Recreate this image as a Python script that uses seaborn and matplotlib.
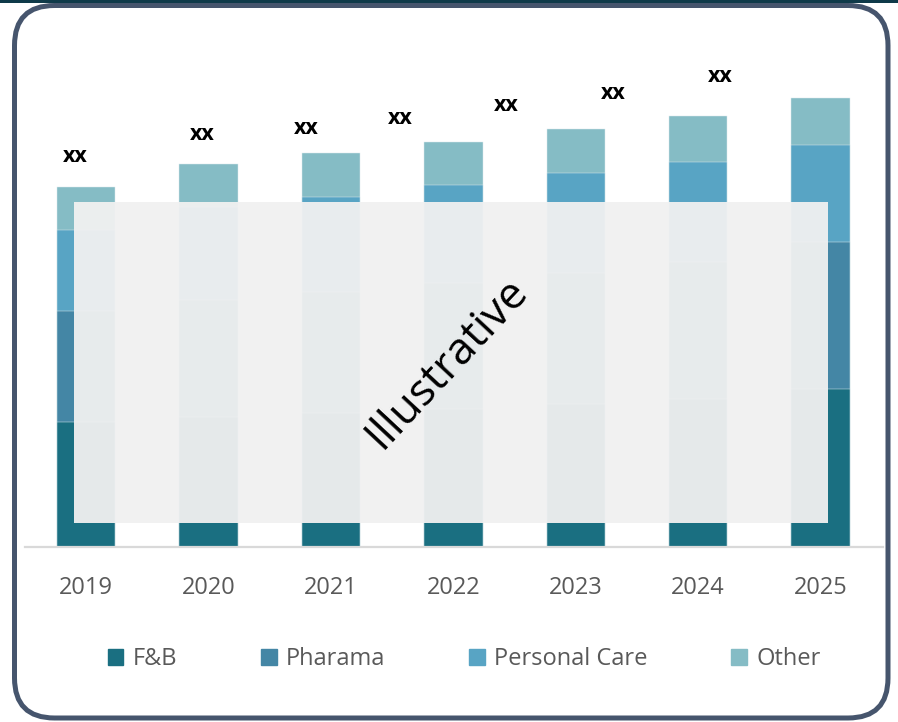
import numpy as np
import pandas as pd
import matplotlib
matplotlib.use("Agg")
import matplotlib.pyplot as plt
import matplotlib.patches as mpatches
import seaborn as sns

# chart data (arbitrary units)
years = ["2019", "2020", "2021", "2022", "2023", "2024", "2025"]
fnb = [124.5, 130.0, 134.0, 138.0, 143.0, 148.0, 157.8]
pharama = [111.0, 117.0, 121.0, 126.0, 131.0, 137.0, 146.7]
personal_care = [81.0, 92.5, 94.8, 97.2, 99.2, 99.8, 97.0]
other = [43.3, 43.0, 43.4, 43.0, 44.0, 45.7, 46.7]

series_names = ["F&B", "Pharama", "Personal Care", "Other"]
series_colors = ["#1a6f81", "#4486a5", "#58a4c4", "#85bcc5"]

# "xx" value labels (they sit a bit off the bars in the original)
label_text = ["xx"] * 7
label_x = [-0.09, 0.95, 1.80, 2.57, 3.43, 4.31, 5.18]
label_y = [390, 412, 418, 428, 441, 453, 470]

sns.set_theme(style="white")
plt.rcParams["font.family"] = ["Open Sans", "DejaVu Sans"]

df = pd.DataFrame({"year": years, "F&B": fnb, "Pharama": pharama,
                   "Personal Care": personal_care, "Other": other})

fig = plt.figure(figsize=(8.98, 7.22), dpi=100)

# background layer in pixel coordinates for the rounded frame
bg = fig.add_axes([0, 0, 1, 1], zorder=0)
bg.set_xlim(0, 898)
bg.set_ylim(722, 0)
bg.axis("off")
bg.add_patch(mpatches.Rectangle((0, 0), 898, 3, color="#0f3a49", lw=0))
bg.add_patch(mpatches.FancyBboxPatch((14.5, 5.5), 873.5, 712.5,
                                     boxstyle="round,pad=0,rounding_size=40",
                                     fc="none", ec="#46556d", lw=3.6))

ax = fig.add_axes([25 / 898, (722 - 546.5) / 722, 858 / 898, 500 / 722], zorder=1)
ax.patch.set_visible(False)

# stacked bars: draw cumulative totals from the top segment down
cum = df[series_names].cumsum(axis=1)
for name, color in reversed(list(zip(series_names, series_colors))):
    sns.barplot(x=df["year"], y=cum[name], color=color, saturation=1,
                width=0.477, edgecolor="#dbe9ed", linewidth=0.35, ax=ax)

ax.set_xlim(-0.5, 6.51)
ax.set_ylim(0, 500)
ax.set_xlabel("")
ax.set_ylabel("")
ax.set_yticks([])
for s in ["top", "right", "left"]:
    ax.spines[s].set_visible(False)
ax.spines["bottom"].set_color("#d9d9d9")
ax.spines["bottom"].set_linewidth(1.6)
ax.tick_params(axis="x", length=0, pad=21, labelsize=17, labelcolor="#595959")

for x, y, t in zip(label_x, label_y, label_text):
    ax.text(x, y, t, ha="center", va="center", fontsize=15.5,
            fontweight="bold", color="black")

# semi-opaque "Illustrative" overlay
ax.add_patch(mpatches.Rectangle((-0.102, 24), 6.16, 320.5, fc="#f1f1f1",
                                alpha=0.95, lw=0, zorder=5))
ax.text(2.945, 183, "Illustrative", rotation=47, rotation_mode="anchor",
        ha="center", va="center", fontsize=32, color="black", zorder=6)

handles = [mpatches.Patch(color=c, label=n) for n, c in zip(series_names, series_colors)]
leg = fig.legend(handles=handles, loc="center", bbox_to_anchor=(0.517, 0.087),
                 ncol=4, frameon=False, fontsize=17, handlelength=0.65,
                 handleheight=0.65, handletextpad=0.4, columnspacing=3.55)
for t in leg.get_texts():
    t.set_color("#595959")

fig.savefig("out.png", dpi=100)
